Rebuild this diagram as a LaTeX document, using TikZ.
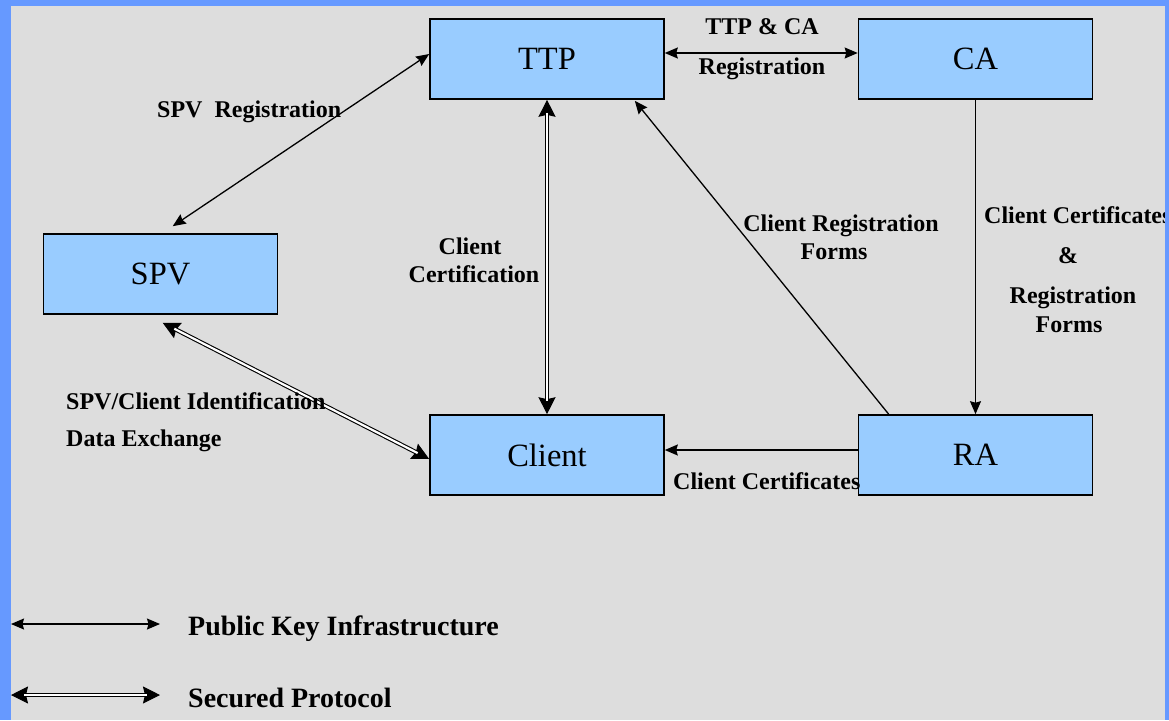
\documentclass[tikz,border=0pt]{standalone}
\usepackage{fontspec}
\setmainfont{Liberation Serif}
\usetikzlibrary{arrows.meta,calc}
\definecolor{frameblue}{HTML}{6699FF}
\definecolor{boxblue}{HTML}{99CCFF}
\definecolor{slidegray}{HTML}{DDDDDD}

\begin{document}
\begin{tikzpicture}[x=1pt,y=-1pt,
  entity/.style={draw=black, line width=1.6pt, fill=boxblue,
    minimum width=234pt, minimum height=80pt, inner sep=0pt,
    font=\fontsize{32.5}{38}\selectfont},
  lbl/.style={inner sep=0pt, font=\bfseries\fontsize{24}{28}\selectfont},
  leglbl/.style={inner sep=0pt, font=\bfseries\fontsize{28}{32}\selectfont},
  thintip/.tip={Stealth[length=13pt,width=11pt,inset=1.5pt]},
  widetip/.tip={Stealth[length=17pt,width=17pt,inset=2pt]},
  pki/.style={line width=1.3pt, thintip-thintip},
  oneway/.style={line width=1.3pt, -thintip},
  % secured link: heads on a thin guide line, then the hollow double shaft
  securetips/.style={line width=1pt, widetip-widetip},
  secureshaft/.style={double=white, double distance=2.2pt, line width=1.1pt,
    shorten <=13pt, shorten >=13pt}]

\useasboundingbox (0,0) rectangle (1169,720);
\fill[slidegray] (0,0) rectangle (1169,720);

% entities
\node[entity] (TTP)    at (547,59)    {TTP};
\node[entity] (CA)     at (975.5,59)  {CA};
\node[entity] (SPV)    at (160.5,274) {SPV};
\node[entity] (Client) at (547,455)   {Client};
\node[entity] (RA)     at (975.5,455) {RA};

% end points of the secured links
\coordinate (spvLow)  at ($(SPV.south west)+(120,8)$);
\coordinate (cliLeft) at ($(Client.west)+(0,4)$);

% links
\draw[pki] ($(SPV.north west)+(130,-7)$) -- ($(TTP.west)+(0,-5)$);
\draw[pki] ($(TTP.east)+(0,-6)$) -- ($(CA.west)+(0,-6)$);
\draw[securetips] (TTP.south) -- (Client.north);
\draw[secureshaft] (TTP.south) -- (Client.north);
\draw[securetips] (spvLow) -- (cliLeft);
\draw[secureshaft] (spvLow) -- (cliLeft);
\draw[oneway] ($(RA.north west)+(31,0)$) -- ($(TTP.south east)+(-30,1)$);
\draw[oneway] (CA.south) -- (RA.north);
\draw[oneway] ($(RA.west)+(0,-5)$) -- ($(Client.east)+(0,-5)$);

% legend
\coordinate (pkiA) at (11,624);
\coordinate (pkiB) at (160,624);
\coordinate (secA) at (11,695);
\coordinate (secB) at (160,695);
\draw[pki] (pkiA) -- (pkiB);
\draw[securetips] (secA) -- (secB);
\draw[secureshaft] (secA) -- (secB);

% labels
\node[lbl, anchor=west] (lSpvReg) at (157,112) {SPV\ \ Registration};
\node[lbl] (lTtpCa1) at (762,27) {TTP \& CA};
\node[lbl] (lTtpCa2) at (762,69) {Registration};
\node[lbl] (lCert1) at (470,246) {Client};
\node[lbl] (lCert2) at (474,274) {Certification};
\node[lbl] (lForms1) at (841,226) {Client Registration};
\node[lbl] (lForms2) at (834,252) {Forms};
\node[lbl, anchor=west] (lCaRa1) at (984,215) {Client Certificates};
\node[lbl] (lCaRa2) at (1068,256) {\&};
\node[lbl] (lCaRa3) at (1073,298) {Registration};
\node[lbl] (lCaRa4) at (1069,325) {Forms};
\node[lbl, anchor=west] (lId1) at (66,401) {SPV/Client Identification};
\node[lbl, anchor=west] (lId2) at (66,441) {Data Exchange};
\node[lbl, anchor=west] (lRaCl) at (673,481) {Client Certificates};
\node[leglbl, anchor=west] (lLeg1) at (188,629) {Public Key Infrastructure};
\node[leglbl, anchor=west] (lLeg2) at (188,698) {Secured Protocol};

% slide frame
\fill[frameblue] (0,0) rectangle (11,720);
\fill[frameblue] (0,0) rectangle (1169,6);
\fill[frameblue] (1165,0) rectangle (1169,720);
\end{tikzpicture}
\end{document}
